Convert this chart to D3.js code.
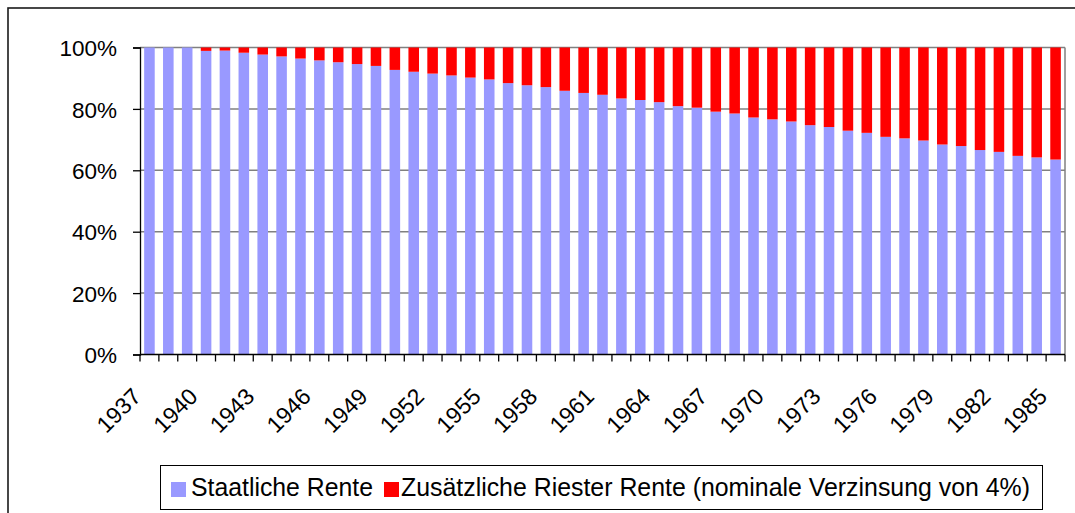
<!DOCTYPE html>
<html>
<head>
<meta charset="utf-8">
<script src="https://cdn.jsdelivr.net/npm/d3@7"></script>
<style>
  body { margin: 0; background: #fff; }
  svg { display: block; font-family: "Liberation Sans", Arial, sans-serif; }
</style>
</head>
<body>
<svg id="chart" width="1075" height="513"></svg>
<script>
// years 1937..1985
const years = d3.range(1937, 1986)

// share of the state pension, in percent
const staatlich = [
  100, 100, 100, 98.9, 99.0, 98.3, 97.7, 97.1, 96.4, 95.8,
  95.2, 94.6, 94.0, 92.7, 92.1, 91.5, 90.9, 90.2, 89.6, 88.4,
  87.7, 87.1, 85.9, 85.2, 84.6, 83.4, 82.9, 82.2, 80.9, 80.4,
  79.1, 78.5, 77.2, 76.6, 75.9, 74.7, 74.1, 72.9, 72.2, 70.9,
  70.4, 69.7, 68.4, 67.9, 66.6, 66.0, 64.7, 64.2, 63.5
]
// additional Riester share, the rest up to 100%
const riester = staatlich.map((v) => +(100 - v).toFixed(1))

const yTicks = [0, 20, 40, 60, 80, 100]
const yearLabels = years.filter((y) => (y - 1937) % 3 === 0)

const seriesNames = ['Staatliche Rente', 'Zusätzliche Riester Rente (nominale Verzinsung von 4%)']
const colors = ['#9999ff', '#ff0000']

const margin = { top: 47.5, left: 140 }
const plotW = 1065 - margin.left
const plotH = 354.5 - margin.top

const svg = d3.select('#chart')

// outer chart border (only top and left are visible)
svg.append('rect')
  .attr('x', 8).attr('y', 8)
  .attr('width', 1200).attr('height', 800)
  .attr('fill', 'none')
  .attr('stroke', '#1a1a1a')
  .attr('stroke-width', 1.6)

const g = svg.append('g').attr('transform', `translate(${margin.left},${margin.top})`)

const x = d3.scaleBand().domain(years).range([0, plotW]).paddingInner(0.44).paddingOuter(0.22)
const y = d3.scaleLinear().domain([0, 100]).range([plotH, 0])

// gridlines
g.append('g')
  .selectAll('line')
  .data(yTicks.filter((d) => d > 0))
  .join('line')
  .attr('x1', 0).attr('x2', plotW)
  .attr('y1', (d) => y(d)).attr('y2', (d) => y(d))
  .attr('stroke', '#808080')
  .attr('stroke-width', 1.5)

// right border of plot area
g.append('line')
  .attr('x1', plotW).attr('x2', plotW)
  .attr('y1', 0).attr('y2', plotH)
  .attr('stroke', '#808080')
  .attr('stroke-width', 1.5)

// stacked bars
const data = years.map((yr, i) => ({ year: yr, staatlich: staatlich[i], riester: riester[i] }))
const stack = d3.stack().keys(['staatlich', 'riester'])(data)

g.append('g')
  .selectAll('g')
  .data(stack)
  .join('g')
  .attr('fill', (d, i) => colors[i])
  .selectAll('rect')
  .data((d) => d)
  .join('rect')
  .attr('x', (d) => x(d.data.year))
  .attr('width', x.bandwidth())
  .attr('y', (d) => y(d[1]))
  .attr('height', (d) => y(d[0]) - y(d[1]))

// y axis
const yAxis = g.append('g')
  .call(d3.axisLeft(y).tickValues(yTicks).tickFormat((d) => d + '%').tickSize(7).tickPadding(16))
yAxis.select('.domain').attr('stroke', '#000').attr('stroke-width', 1.3)
yAxis.selectAll('.tick line').attr('stroke', '#000').attr('stroke-width', 1.3)
yAxis.selectAll('.tick text')
  .attr('font-size', 22.5)
  .attr('font-family', '"Liberation Sans", Arial, sans-serif')
  .attr('fill', '#000')
  .attr('dy', '0.36em')

// x axis: ticks between categories
const step = x.step()
const xAxis = g.append('g').attr('transform', `translate(0,${plotH})`)
xAxis.append('line')
  .attr('x1', 0).attr('x2', plotW)
  .attr('stroke', '#000').attr('stroke-width', 1.3)
xAxis.selectAll('line.tick')
  .data(d3.range(years.length + 1))
  .join('line')
  .attr('class', 'tick')
  .attr('x1', (i) => i * step).attr('x2', (i) => i * step)
  .attr('y1', 0).attr('y2', 7)
  .attr('stroke', '#000').attr('stroke-width', 1.3)

xAxis.selectAll('text')
  .data(yearLabels)
  .join('text')
  .attr('transform', (d) => `translate(${x(d) + x.bandwidth() / 2 - 7},${43.5}) rotate(-45)`)
  .attr('text-anchor', 'end')
  .attr('font-size', 23)
  .attr('fill', '#000')
  .text((d) => d)

// legend
const legend = svg.append('g')
legend.append('rect')
  .attr('x', 160.5).attr('y', 465.5)
  .attr('width', 882).attr('height', 44)
  .attr('fill', '#fff')
  .attr('stroke', '#000')
  .attr('stroke-width', 1)

const legendItems = [
  { sx: 171, tx: 191, len: 182 },
  { sx: 384, tx: 401, len: 629 }
]
legendItems.forEach((it, i) => {
  legend.append('rect')
    .attr('x', it.sx).attr('y', 482)
    .attr('width', 15).attr('height', 15)
    .attr('fill', colors[i])
  legend.append('text')
    .attr('x', it.tx).attr('y', 495.5)
    .attr('font-size', 26)
    .attr('fill', '#000')
    .attr('textLength', it.len)
    .attr('lengthAdjust', 'spacingAndGlyphs')
    .text(seriesNames[i])
})
</script>
</body>
</html>
